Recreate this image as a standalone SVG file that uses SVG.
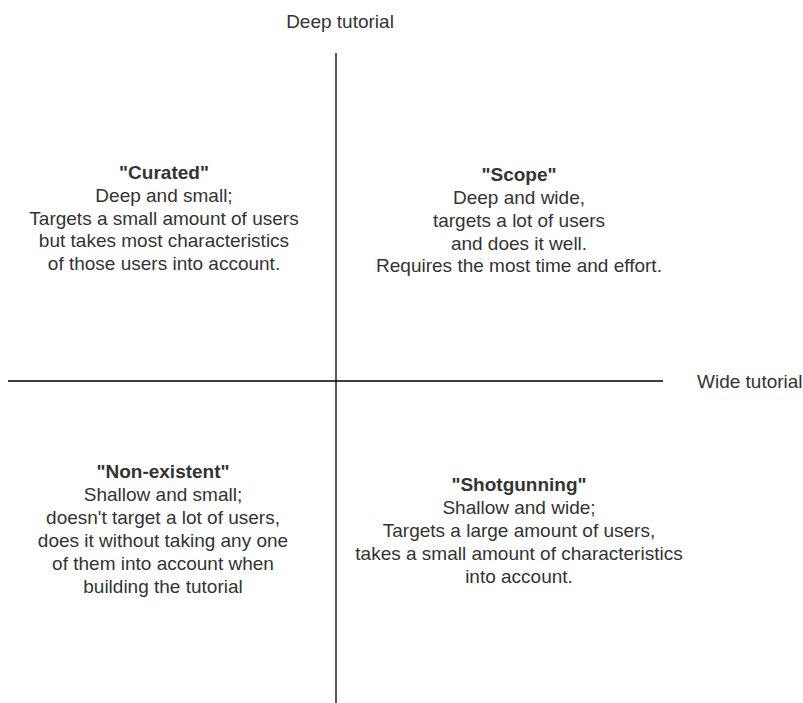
<svg xmlns="http://www.w3.org/2000/svg" width="803" height="703" viewBox="0 0 803 703">
<style>
text{font-family:"Liberation Sans",Arial,sans-serif;font-size:19px;fill:#333333}
.c{text-anchor:middle}
.b{font-weight:bold}
.ax{stroke:#000;stroke-width:1.3;fill:none}
</style>
<rect width="803" height="703" fill="#ffffff"/>
<g id="connectors">
<line class="ax" x1="336" y1="53" x2="336" y2="703"/>
<line class="ax" x1="8" y1="381" x2="663" y2="381"/>
</g>
<g id="deep-label"><text class="c" x="340" y="28">Deep tutorial</text></g>
<g id="wide-label"><text x="697" y="388">Wide tutorial</text></g>
<g id="curated">
<text class="c b" x="164" y="179">"Curated"</text>
<text class="c" x="164" y="202">Deep and small;</text>
<text class="c" x="164" y="225">Targets a small amount of users</text>
<text class="c" x="164" y="247">but takes most characteristics</text>
<text class="c" x="164" y="270">of those users into account.</text>
</g>
<g id="scope">
<text class="c b" x="519" y="181">"Scope"</text>
<text class="c" x="519" y="204">Deep and wide,</text>
<text class="c" x="519" y="227">targets a lot of users</text>
<text class="c" x="519" y="250">and does it well.</text>
<text class="c" x="519" y="272">Requires the most time and effort.</text>
</g>
<g id="non-existent">
<text class="c b" x="163" y="478">"Non-existent"</text>
<text class="c" x="163" y="501">Shallow and small;</text>
<text class="c" x="163" y="524">doesn't target a lot of users,</text>
<text class="c" x="163" y="547">does it without taking any one</text>
<text class="c" x="163" y="570">of them into account when</text>
<text class="c" x="163" y="593">building the tutorial</text>
</g>
<g id="shotgunning">
<text class="c b" x="519" y="491">"Shotgunning"</text>
<text class="c" x="519" y="514">Shallow and wide;</text>
<text class="c" x="519" y="537">Targets a large amount of users,</text>
<text class="c" x="519" y="560">takes a small amount of characteristics</text>
<text class="c" x="519" y="583">into account.</text>
</g>
</svg>
